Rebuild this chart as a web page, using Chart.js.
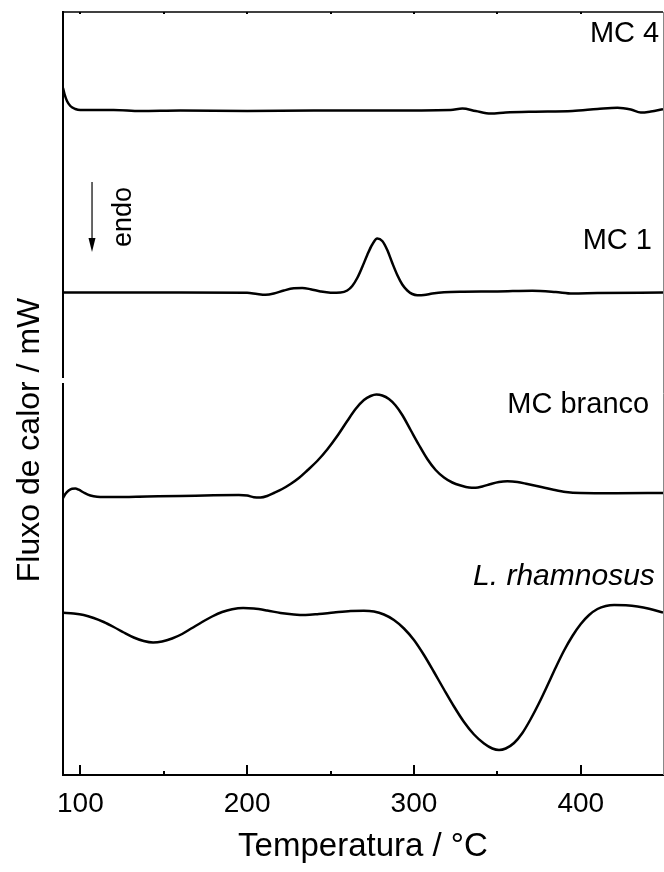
<!DOCTYPE html>
<html>
<head>
<meta charset="utf-8">
<script src="https://cdn.jsdelivr.net/npm/chart.js@4"></script>
<style>
  body { margin: 0; background: #fff; }
  #wrap { width: 664px; height: 872px; }
</style>
</head>
<body>
<div id="wrap"><canvas id="dscChart" width="664" height="872"></canvas></div>
<script>
// DSC curves: temperature (°C) and heat flow (a.u., curves stacked with offsets)
const tempMC4 = [89.6, 90.5, 92, 94, 97, 100, 120, 136, 160, 200, 240, 280, 322, 329, 337, 346, 355, 371, 395, 410, 422, 430, 436, 442, 449.3];
const flowMC4 = [687, 681, 674, 669, 666, 665, 665, 664, 664.5, 664, 664.5, 664.5, 665, 666.5, 664, 661.5, 662.5, 663.3, 664, 666, 667.3, 665.5, 662.5, 663.5, 665.7];

const tempMC1 = [89.6, 150, 200, 206, 211, 216, 222, 228, 233, 238, 244, 250, 256, 260, 263, 266, 269, 272, 275, 278, 281, 284, 287, 290, 293, 296, 299, 302, 306, 311, 318, 330, 350, 371, 385, 395, 410, 449.3];
const flowMC1 = [482.5, 482.5, 482.3, 481, 480.3, 481.5, 484.5, 486.7, 487, 485.8, 483.5, 482.3, 482.5, 484.5, 489, 497, 508, 520, 530.5, 536.5, 534, 525, 512, 500, 490.5, 484.5, 481, 479.8, 480, 481.5, 482.8, 483.3, 483.5, 484.3, 483, 481.5, 482, 482.5];

const tempBranco = [89.6, 91, 93, 95, 97, 99, 102, 106, 110, 120, 140, 160, 180, 195, 200, 204, 208, 212, 216, 221, 226, 231, 236, 242, 248, 254, 260, 265, 270, 274, 277.5, 281, 285, 289, 293, 298, 303, 308, 313, 318, 323, 328, 333, 337, 341, 346, 351, 356, 362, 368, 375, 383, 391, 400, 420, 449.3];
const flowBranco = [277, 281, 284.5, 286.3, 286.5, 285.3, 282.5, 279.5, 278.3, 278, 278.5, 279, 279.8, 280, 279.5, 277.8, 277.5, 279, 282, 286, 291, 297, 304.5, 314, 325.5, 339, 354, 366, 375, 379, 380.5, 379.5, 376, 369.5, 360, 345, 330, 316, 305, 297.5, 292.5, 289.5, 287.5, 287.3, 288.5, 291, 293, 293.7, 293, 291, 288.5, 285.5, 283, 282, 281.8, 282];

const tempRhamn = [89.6, 96, 102, 108, 114, 120, 126, 132, 138, 143.6, 149, 155, 161, 167, 173, 179, 185, 191, 197.6, 204, 212, 220, 228, 235, 243, 252, 262, 270, 276, 282, 288, 294, 300, 306, 312, 318, 324, 330, 336, 342, 347, 351, 355, 360, 365, 370, 375, 380, 385, 390, 395, 400, 405, 410, 415, 420, 427, 434, 441, 449.3];
const flowRhamn = [162.3, 161.5, 160, 157, 153, 148, 142.5, 137.5, 134, 132.5, 133.5, 136.5, 141, 147, 153, 158.5, 163, 165.8, 167, 166.5, 164.5, 162, 160.5, 160, 161, 162.5, 164, 164.3, 163.5, 160.5, 155, 146.5, 135, 120, 103, 85.5, 68.5, 53, 40.5, 31.5, 26.5, 25, 26.5, 32, 42, 56, 72, 89.5, 107.5, 124.5, 139, 151, 160, 166, 169, 170, 169.7, 168.5, 166.3, 162.5];

const xTicks = [100, 200, 300, 400];
const xMinorTicks = [150, 250, 350];
const seriesNames = ["MC 4", "MC 1", "MC branco", "L. rhamnosus"];

const FONT = 'Arial, "Liberation Sans", sans-serif';

function toPoints(xs, ys) {
    return xs.map((x, i) => ({ x: x, y: ys[i] }));
}

// labels sit at the right end of each curve (temperature, flow)
const labelPos = [[447, 733], [442.7, 526], [441, 362], [444.4, 190]];
const axisBreak = [392, 397];

const decorPlugin = {
    id: "decor",
    afterDraw(chart) {
        const ctx = chart.ctx;
        const xs = chart.scales.x;
        const ys = chart.scales.y;
        const area = chart.chartArea;
        ctx.save();

        // top and right frame
        ctx.strokeStyle = "#000";
        ctx.lineWidth = 1.5;
        ctx.beginPath();
        ctx.moveTo(area.left, area.top);
        ctx.lineTo(area.right, area.top);
        ctx.stroke();
        ctx.strokeStyle = "#888";
        ctx.lineWidth = 1;
        ctx.beginPath();
        ctx.moveTo(area.right + 0.5, area.top);
        ctx.lineTo(area.right + 0.5, area.bottom);
        ctx.stroke();

        // inward ticks
        ctx.strokeStyle = "#000";
        ctx.lineWidth = 2;
        xTicks.concat(xMinorTicks).forEach(v => {
            const px = Math.round(xs.getPixelForValue(v));
            const len = xTicks.includes(v) ? 10 : 4;
            ctx.beginPath();
            ctx.moveTo(px, area.bottom);
            ctx.lineTo(px, area.bottom - len);
            ctx.stroke();
            ctx.beginPath();
            ctx.moveTo(px, area.top);
            ctx.lineTo(px, area.top + 2);
            ctx.stroke();
        });

        // axis break on the left axis
        ctx.fillStyle = "#fff";
        const b1 = ys.getPixelForValue(axisBreak[1]);
        const b0 = ys.getPixelForValue(axisBreak[0]);
        ctx.fillRect(area.left - 3, b1, 6, b0 - b1);

        // curve labels
        ctx.fillStyle = "#000";
        ctx.textAlign = "right";
        ctx.textBaseline = "alphabetic";
        seriesNames.forEach((name, i) => {
            ctx.font = (i === 3 ? "italic 30px " : "29px ") + FONT;
            ctx.fillText(name, xs.getPixelForValue(labelPos[i][0]), ys.getPixelForValue(labelPos[i][1]));
        });

        // endo arrow
        const ax = xs.getPixelForValue(107);
        const ay0 = ys.getPixelForValue(593);
        const ay1 = ys.getPixelForValue(523);
        ctx.lineWidth = 1.2;
        ctx.beginPath();
        ctx.moveTo(ax, ay0);
        ctx.lineTo(ax, ay1 - 12);
        ctx.stroke();
        ctx.beginPath();
        ctx.moveTo(ax - 3.5, ay1 - 14);
        ctx.lineTo(ax + 3.5, ay1 - 14);
        ctx.lineTo(ax, ay1);
        ctx.closePath();
        ctx.fill();

        ctx.save();
        ctx.translate(ax + 39, (ay0 + ay1) / 2);
        ctx.rotate(-Math.PI / 2);
        ctx.textAlign = "center";
        ctx.font = "27px " + FONT;
        ctx.fillText("endo", 0, 0);
        ctx.restore();

        // axis titles
        ctx.font = "33px " + FONT;
        ctx.textAlign = "center";
        ctx.fillText("Temperatura / °C", (area.left + area.right) / 2, 856);
        ctx.save();
        ctx.translate(39, 440);
        ctx.rotate(-Math.PI / 2);
        ctx.font = "32px " + FONT;
        ctx.fillText("Fluxo de calor / mW", 0, 0);
        ctx.restore();

        ctx.restore();
    }
};

function makeSet(label, xs, ys) {
    return {
        label: label,
        data: toPoints(xs, ys),
        borderColor: "#000",
        borderWidth: 2.5,
        pointRadius: 0,
        fill: false,
        cubicInterpolationMode: "monotone"
    };
}

const ctx = document.getElementById("dscChart").getContext("2d");
new Chart(ctx, {
    type: "line",
    data: {
        datasets: [
            makeSet(seriesNames[0], tempMC4, flowMC4),
            makeSet(seriesNames[1], tempMC1, flowMC1),
            makeSet(seriesNames[2], tempBranco, flowBranco),
            makeSet(seriesNames[3], tempRhamn, flowRhamn)
        ]
    },
    options: {
        responsive: false,
        animation: false,
        layout: { padding: { top: 12, right: 1, left: 0, bottom: 0 } },
        plugins: { legend: { display: false }, tooltip: { enabled: false } },
        scales: {
            x: {
                type: "linear",
                min: 89.6,
                max: 449.3,
                afterBuildTicks: scale => { scale.ticks = xTicks.map(v => ({ value: v })); },
                afterFit: scale => { scale.height = 97; },
                grid: { display: false, drawTicks: false },
                border: { display: true, color: "#000", width: 2 },
                ticks: {
                    color: "#000",
                    font: { family: FONT, size: 28 },
                    padding: 12,
                    maxRotation: 0,
                    autoSkip: false
                }
            },
            y: {
                type: "linear",
                min: 0,
                max: 763,
                afterFit: scale => { scale.width = 63; },
                grid: { display: false, drawTicks: false },
                border: { display: true, color: "#000", width: 2 },
                ticks: { display: false }
            }
        }
    },
    plugins: [decorPlugin]
});
</script>
</body>
</html>
